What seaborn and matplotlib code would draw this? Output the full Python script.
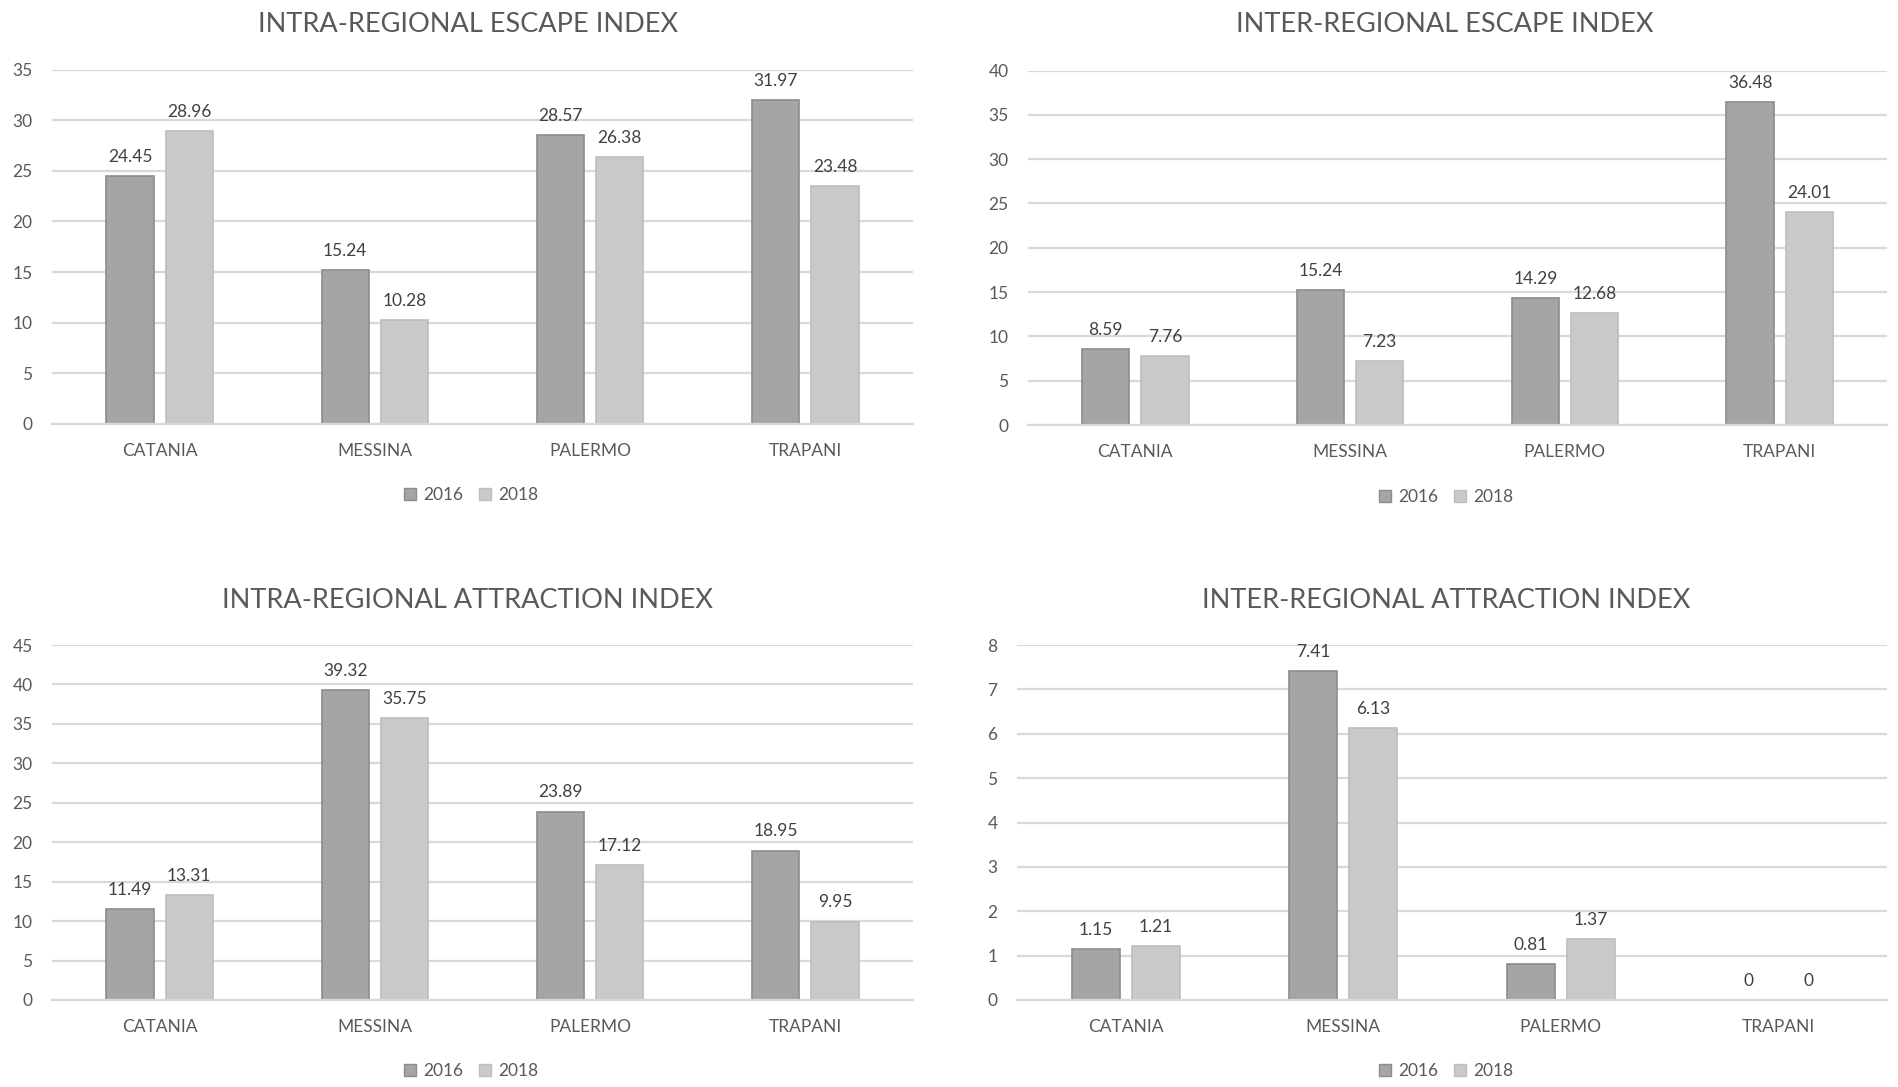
import pandas as pd
import matplotlib.pyplot as plt
import seaborn as sns
from matplotlib.patches import Patch

# values
provinces = ["CATANIA", "MESSINA", "PALERMO", "TRAPANI"]
years = ["2016", "2018"]

intra_escape_2016 = [24.45, 15.24, 28.57, 31.97]
intra_escape_2018 = [28.96, 10.28, 26.38, 23.48]
inter_escape_2016 = [8.59, 15.24, 14.29, 36.48]
inter_escape_2018 = [7.76, 7.23, 12.68, 24.01]
intra_attr_2016 = [11.49, 39.32, 23.89, 18.95]
intra_attr_2018 = [13.31, 35.75, 17.12, 9.95]
inter_attr_2016 = [1.15, 7.41, 0.81, 0]
inter_attr_2018 = [1.21, 6.13, 1.37, 0]

titles = [
    "INTRA-REGIONAL ESCAPE INDEX",
    "INTER-REGIONAL ESCAPE INDEX",
    "INTRA-REGIONAL ATTRACTION INDEX",
    "INTER-REGIONAL ATTRACTION INDEX",
]
y_max = [35, 40, 45, 8]
y_step = [5, 5, 5, 1]

colors = {"2016": "#a5a5a5", "2018": "#c9c9c9"}
edges = {"2016": "#8c8c8c", "2018": "#bdbdbd"}
grid_col = "#d9d9d9"
txt_col = "#595959"

sns.set_theme(style="white")
plt.rcParams["font.family"] = ["Lato", "DejaVu Sans"]

W, H = 1898, 1087
fig = plt.figure(figsize=(W / 100, H / 100), dpi=100)

# axes boxes in pixels: left, top, right, bottom
boxes = [
    (52, 69.5, 913, 424),
    (1028, 70.5, 1887, 425),
    (52, 645, 913, 1000),
    (1017, 645, 1887, 1000),
]
title_pos = [(468, 25), (1445, 25), (468, 601), (1446, 601)]
legend_pos = [(471, 495), (1446, 497), (471, 1071), (1446, 1071)]

series = [
    (intra_escape_2016, intra_escape_2018),
    (inter_escape_2016, inter_escape_2018),
    (intra_attr_2016, intra_attr_2018),
    (inter_attr_2016, inter_attr_2018),
]

for i, (v16, v18) in enumerate(series):
    l, t, r, b = boxes[i]
    ax = fig.add_axes([l / W, 1 - b / H, (r - l) / W, (b - t) / H])
    df = pd.DataFrame({
        "province": provinces * 2,
        "year": ["2016"] * 4 + ["2018"] * 4,
        "value": list(v16) + list(v18),
    })
    sns.barplot(data=df, x="province", y="value", hue="year", order=provinces,
                hue_order=years, palette=colors, width=0.55, gap=0.2,
                errorbar=None, ax=ax, legend=False, saturation=1)
    for yr, cont in zip(years, ax.containers):
        for p in cont:
            p.set_edgecolor(edges[yr])
            p.set_linewidth(1.2)
        vals = v16 if yr == "2016" else v18
        ax.bar_label(cont, labels=[f"{v:g}" for v in vals], padding=8,
                     fontsize=12.5, color="#404040")

    ax.set_xlim(-0.5, 3.5)
    ax.set_ylim(0, y_max[i])
    ax.set_yticks(range(0, y_max[i] + 1, y_step[i]))
    ax.yaxis.grid(True, color=grid_col, linewidth=1.6)
    ax.set_axisbelow(True)
    for s in ["top", "right", "left"]:
        ax.spines[s].set_visible(False)
    ax.spines["bottom"].set_color(grid_col)
    ax.spines["bottom"].set_linewidth(1.6)
    ax.tick_params(axis="y", length=0, pad=14, labelsize=12.5, labelcolor=txt_col)
    ax.tick_params(axis="x", length=0, pad=13.5, labelsize=12.5, labelcolor=txt_col)
    ax.set_xlabel("")
    ax.set_ylabel("")

    tx, ty = title_pos[i]
    fig.text(tx / W, 1 - ty / H, titles[i], ha="center", va="center",
             fontsize=19.5, color=txt_col)

    handles = [Patch(facecolor=colors[y], edgecolor=edges[y], label=y) for y in years]
    lx, ly = legend_pos[i]
    ax.legend(handles=handles, loc="center", bbox_to_anchor=(lx / W, 1 - ly / H),
              bbox_transform=fig.transFigure, ncol=2, frameon=False,
              handlelength=0.7, handleheight=0.7, handletextpad=0.4,
              columnspacing=0.9, fontsize=12.5, labelcolor=txt_col)

fig.savefig("out.png", dpi=100, facecolor="white")
